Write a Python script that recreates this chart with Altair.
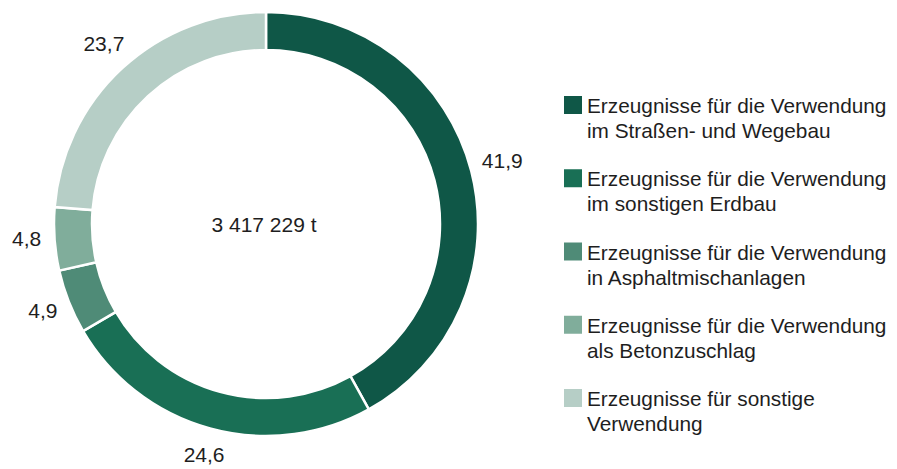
import altair as alt
import pandas as pd

categories = [
    "Straßen- und Wegebau",
    "sonstiger Erdbau",
    "Asphaltmischanlagen",
    "Betonzuschlag",
    "sonstige Verwendung",
]
legend_labels = [
    "Erzeugnisse für die Verwendung\nim Straßen- und Wegebau",
    "Erzeugnisse für die Verwendung\nim sonstigen Erdbau",
    "Erzeugnisse für die Verwendung\nin Asphaltmischanlagen",
    "Erzeugnisse für die Verwendung\n\u00a0als Betonzuschlag",
    "Erzeugnisse für sonstige\nVerwendung",
]
shares = [41.9, 24.6, 4.9, 4.8, 23.7]
share_labels = ["41,9", "24,6", "4,9", "4,8", "23,7"]
colors = ["#0F5747", "#196F55", "#4F8B77", "#80AD9B", "#B6CEC6"]
total_label = "3 417 229 t"

FONT = "Liberation Sans"
TXT = "#1e1e1e"

df = pd.DataFrame({
    "cat": categories,
    "share": shares,
    "label": share_labels,
    "legend": legend_labels,
    "order": list(range(len(categories))),
})

color_enc = alt.Color("cat:N", scale=alt.Scale(domain=categories, range=colors), legend=None)

base = alt.Chart(df).encode(
    theta=alt.Theta("share:Q", stack=True),
    order=alt.Order("order:Q"),
    color=color_enc,
)

arcs = base.mark_arc(x=266, y=224, outerRadius=212, innerRadius=174,
                     stroke="white", strokeWidth=2.5)

labels = base.mark_text(x=268, y=223, radius=242, fontSize=21, font=FONT).encode(
    text="label:N", color=alt.value(TXT)
)

center = alt.Chart(pd.DataFrame({"t": [total_label]})).mark_text(
    x=264, y=226, fontSize=21, font=FONT, color=TXT, baseline="middle"
).encode(text="t:N")

y_enc = alt.Y("cat:N", scale=alt.Scale(type="point", domain=categories, range=[105, 398], padding=0), axis=None)

leg_sq = alt.Chart(df).mark_square(x=573, size=324, opacity=1).encode(
    y=y_enc, color=color_enc
)
leg_txt = alt.Chart(df).mark_text(
    x=587, align="left", baseline="alphabetic", dy=8, lineBreak="\n",
    lineHeight=25, fontSize=20.8, font=FONT, color=TXT
).encode(y=y_enc, text="legend:N")

chart = alt.layer(arcs, labels, center, leg_sq, leg_txt).properties(
    width=897, height=469, padding=0, autosize="none", background="white"
).configure_view(stroke=None)

chart.save("out.html", embed_options={"renderer": "svg", "actions": False})
